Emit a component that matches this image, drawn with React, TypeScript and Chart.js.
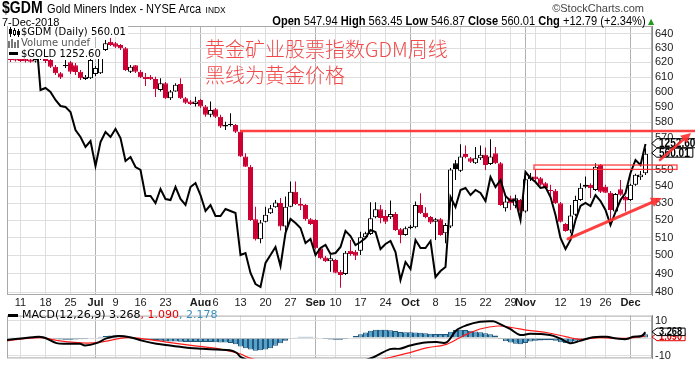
import React, { useEffect, useRef } from 'react';
import { Chart, registerables } from 'chart.js';
Chart.register(...registerables);

const NARROW = '"Liberation Sans Narrow", "Arial Narrow", "Liberation Sans", Arial, sans-serif';
const LEG = '"DejaVu Sans", Verdana, sans-serif';

// Daily candles, 7-Jun-2018 .. 7-Dec-2018 (index 0 = 7-Jun)
const open = [623.8,623.0,623.0,622.5,622.0,620.6,622.8,623.1,621.7,617.1,612.6,617.6,620.1,618.0,613.6,608.7,609.2,612.1,612.6,628.7,634.5,633.4,632.2,629.9,613.6,618.0,613.6,610.2,610.1,608.7,601.3,605.8,595.7,600.2,605.3,595.7,593.5,592.0,594.6,590.2,584.8,588.5,583.6,577.2,578.3,578.3,573.9,558.2,551.9,520.5,509.1,519.1,524.1,527.6,530.1,516.3,527.9,536.8,529.5,528.9,520.5,520.1,504.0,498.8,496.8,497.4,491.0,489.7,502.6,502.0,502.6,510.2,512.1,521.7,526.4,522.5,521.7,523.6,514.8,511.5,515.3,515.9,528.9,524.4,521.8,519.1,520.5,512.5,516.3,554.1,549.5,559.9,557.2,554.1,557.2,559.3,553.6,560.3,554.1,527.0,532.9,528.4,531.9,525.0,544.3,545.9,544.9,541.9,537.8,537.4,529.9,517.8,514.0,523.1,531.9,539.8,540.9,537.8,553.0,539.8,536.2,525.0,538.2,533.6,531.9,540.9,545.5,547.94];
const high = [625.2,624.5,624.5,624.0,623.5,623.8,625.2,623.8,622.4,618.3,613.4,621.7,621.0,619.6,614.8,611.4,622.4,617.6,628.7,635.7,637.1,634.3,632.9,630.8,618.3,618.3,614.8,612.8,611.4,610.1,609.2,606.7,601.3,605.8,609.2,596.6,594.6,596.8,595.3,591.3,593.5,589.3,584.8,580.4,585.9,578.9,575.0,560.3,553.0,527.9,520.1,527.9,528.9,531.9,533.1,533.9,542.9,542.9,533.1,529.5,521.3,520.7,504.7,499.6,500.2,498.0,491.9,502.4,508.7,503.0,513.4,513.4,530.5,530.5,528.9,526.0,531.5,524.8,515.5,516.3,517.2,530.9,535.9,527.6,522.5,521.3,521.3,518.4,551.1,556.1,565.9,565.2,558.0,564.2,565.2,563.9,569.1,564.2,554.9,534.9,534.3,534.9,532.5,545.7,548.1,549.9,545.7,542.7,540.9,538.4,530.7,518.4,528.9,534.3,541.9,545.9,541.9,554.1,553.6,540.9,537.2,536.0,543.9,534.3,541.5,547.7,549.3,563.45];
const low = [620.3,620.6,620.3,620.0,619.8,620.0,621.7,619.6,616.2,611.4,608.7,616.2,612.1,611.4,608.0,608.0,608.7,610.7,612.1,628.0,631.5,630.1,628.7,614.1,612.8,612.8,609.4,604.0,608.0,596.6,600.2,595.3,594.6,600.0,595.3,592.0,591.3,590.2,589.3,583.6,583.3,582.8,576.3,575.0,577.2,573.1,558.0,551.8,519.5,508.3,506.8,518.6,523.6,527.2,514.0,513.4,527.6,528.9,526.0,519.7,517.2,503.4,497.8,496.3,491.0,490.1,482.3,489.2,499.8,497.4,500.2,509.6,511.5,521.1,518.2,517.8,520.7,513.8,506.8,511.0,514.8,515.3,523.6,521.1,517.8,508.7,511.0,506.8,515.5,543.9,548.7,557.2,554.2,553.6,556.1,549.9,553.0,553.6,528.4,525.0,526.0,527.0,520.1,524.4,543.3,543.3,540.3,538.4,534.3,529.5,518.6,513.3,512.5,522.5,531.3,538.8,533.1,537.2,536.0,536.0,520.1,524.2,534.3,525.0,531.3,540.3,543.9,546.87];
const close = [621.7,621.4,621.0,620.8,620.5,622.4,623.2,621.0,617.1,612.6,609.6,618.1,613.6,613.4,609.2,610.2,621.7,616.2,626.4,633.4,632.2,631.0,629.9,614.8,617.1,613.6,609.8,608.7,608.5,601.8,605.8,595.7,600.2,604.7,595.7,592.8,592.0,593.5,590.2,584.8,588.0,583.6,577.2,578.3,578.9,573.9,558.2,551.9,520.1,509.1,518.6,523.1,527.0,530.3,516.3,527.9,536.8,529.5,528.5,520.5,517.8,504.0,498.4,496.8,498.4,490.4,489.2,501.5,500.8,499.8,510.2,512.5,521.1,526.4,521.3,519.1,523.6,514.4,511.5,515.3,516.3,528.9,524.1,521.8,518.6,520.5,511.5,517.2,550.3,550.5,558.3,557.8,555.0,557.2,559.3,553.0,558.3,554.1,528.9,530.9,529.9,532.9,525.0,544.3,545.9,544.3,540.9,538.9,537.2,529.9,519.1,513.8,522.7,531.9,539.2,540.9,538.8,551.9,536.8,536.2,526.0,535.4,534.9,531.5,540.9,547.1,547.22,560.01];
// $GOLD overlay (black line)
const gold = [1299.6,1299.6,1300.6,1298.6,1299.6,1309.6,1279.6,1280.6,1278.6,1274.6,1271.6,1271.1,1268.6,1259.6,1256.1,1251.1,1254.1,1241.6,1253.6,1258.6,1256.1,1260.1,1255.6,1244.1,1246.1,1241.1,1239.6,1226.6,1226.6,1223.1,1230.1,1225.1,1224.6,1231.1,1225.1,1222.1,1231.1,1233.1,1227.1,1219.1,1222.1,1216.6,1216.6,1220.1,1219.1,1218.1,1197.1,1198.1,1188.1,1182.6,1181.1,1193.1,1197.1,1201.1,1191.6,1208.1,1215.1,1213.1,1210.6,1203.1,1205.1,1197.1,1200.6,1202.1,1197.6,1198.1,1201.1,1209.1,1206.6,1202.1,1203.6,1205.6,1209.6,1208.6,1200.1,1202.6,1204.1,1198.6,1184.6,1193.6,1190.1,1204.6,1200.6,1200.6,1204.1,1186.1,1189.1,1191.1,1226.1,1221.1,1229.6,1230.6,1227.1,1229.6,1228.1,1224.1,1236.1,1231.1,1234.6,1226.6,1224.1,1224.6,1214.6,1238.6,1235.6,1233.6,1230.6,1231.1,1226.1,1217.1,1205.6,1200.1,1204.6,1214.6,1221.6,1223.1,1221.6,1227.1,1224.1,1219.6,1212.1,1218.6,1224.6,1228.1,1238.1,1244.6,1242.1,1252.6];
// MACD histogram, one per day
const hist = [0.2,0.2,0.5,0.6,0.6,0.6,0.5,0.2,-0.2,-0.6,-0.8,-0.9,-0.9,-0.8,-0.7,-0.6,-0.3,0.3,0.8,1.2,1.5,1.6,1.4,1.0,0.3,-0.3,-0.7,-1.0,-1.2,-1.4,-1.6,-1.8,-1.9,-2.0,-2.1,-2.2,-2.2,-2.2,-2.3,-2.3,-2.3,-2.4,-2.5,-2.6,-2.8,-3.6,-4.8,-5.8,-6.6,-7.2,-7.0,-6.6,-5.8,-4.4,-3.0,-1.6,-0.4,0.4,0.7,0.8,0.7,0.4,-0.2,-0.6,-0.8,-0.9,-1.0,-0.6,0.3,1.2,2.2,3.2,4.2,4.7,4.8,4.7,4.5,4.0,3.5,3.3,3.3,3.2,3.0,2.7,2.5,2.4,2.3,2.4,3.6,4.6,4.8,4.6,4.2,3.8,3.3,2.8,2.2,1.4,-0.6,-1.8,-2.6,-3.2,-3.5,-2.8,-2.0,-1.6,-1.4,-1.3,-1.3,-1.6,-2.4,-2.8,-2.6,-2.0,-1.2,0.0,0.6,0.8,0.8,0.6,-0.1,-0.2,-0.3,-0.1,0.6,1.0,1.2,2.178];
// MACD line and signal line, read at day positions
const macdDay = [-0.8,4.5,6.5,9.2,11.2,13.9,14.9,17.2,19.2,21.5,23.9,26.5,29.2,31.9,33.9,35.9,38.5,41.2,43.9,45.2,46.2,49,55,62,68,72.5,75.9,77.9,79.9,82.5,85.2,87.2,89.2,91.2,93.9,96.5,97.5,99.9,101.9,103.9,107.9,109.9,111.9,113.9,116.5,119.2,121.2,123.2,124.5,126.2,127];
const macdVal = [-1.2,0.5,0.5,-2.9,-3.3,-3.3,-4.3,-2.9,-0.2,1.2,0.5,-1.6,-3.3,-4.3,-5.0,-5.7,-6.1,-6.6,-7.0,-8.4,-11.1,-14,-17,-17.5,-15,-11.1,-6.3,-6.1,-4.3,-2.7,-2.3,-2.5,4.5,7.3,9.3,9.6,8.6,5.2,1.8,2.5,1.8,-0.2,-2.9,-1.6,0.5,0.7,-0.2,-0.6,0.7,1.2,3.268];
const signalDay = [-0.8,5.9,9.9,15.2,17.9,23.2,25.9,31.2,36.5,41.9,45.9,47.9,52,58,65,71,75.9,79.2,83.2,87.2,90.5,93.9,97.5,100.5,103.2,107.2,111.2,113.9,117.9,122.5,127];
const signalVal = [-1.6,0.3,-1.6,-2.9,-2.3,0.2,-0.2,-2.3,-4.3,-6.3,-9.0,-11.5,-14,-16,-16.5,-14,-11.1,-8.8,-5.6,-3.6,1.2,5.2,6.9,5.9,4.5,3.2,0.7,-0.7,0.2,-0.2,1.09];

// x axis: week starts / month starts (day index) and labels
const tickIdx = [2,7,12,17,21,26,31,36,38,41,46,51,56,61,65,70,75,80,85,90,95,100,103,105,110,115,119,124];
const tickText = ['11','18','25','Jul','9','16','23','','Aug','6','13','20','27','Sep','10','17','24','Oct','8','15','22','29','Nov','','12','19','26','Dec'];
const monthIdx = [17,38,61,80,103,124];
const priceTicks = [480,490,500,510,520,530,540,550,560,570,580,590,600,610,620,630,640];
const macdTicks = [-10,0,10];

// hand-drawn annotations (day index / price)
const resistancePrice = 574.4;
const resistanceFrom = 45.9;
const boxFrom = 104.7, boxTo = 133.3, boxHi = 553.0, boxLo = 550.3;
const arrowLow = [111.5, 509.3, 130.3, 533.1];
const arrowHigh = [129.9, 556.1, 136.1, 573.1];

const X_MIN = -0.7, X_MAX = 128.3;
const RED = '#cc0033';
const ANN = 'rgba(255,48,48,0.92)';

function arrow(ctx: any, x1: number, y1: number, x2: number, y2: number, w: number, hl: number, hw: number) {
  const a = Math.atan2(y2 - y1, x2 - x1);
  const bx = x2 - hl * Math.cos(a), by = y2 - hl * Math.sin(a);
  ctx.strokeStyle = ANN; ctx.fillStyle = ANN; ctx.lineWidth = w; ctx.lineCap = 'round';
  ctx.beginPath(); ctx.moveTo(x1, y1); ctx.lineTo(bx, by); ctx.stroke();
  ctx.beginPath(); ctx.moveTo(x2, y2);
  ctx.lineTo(bx + hw * Math.sin(a), by - hw * Math.cos(a));
  ctx.lineTo(bx - hw * Math.sin(a), by + hw * Math.cos(a));
  ctx.closePath(); ctx.fill();
}

function tag(ctx: any, x: number, y: number, text: string, color: string, font: string, h: number) {
  ctx.save();
  ctx.font = font;
  const sx = 0.84;
  const w = ctx.measureText(text).width * sx + 5;
  ctx.beginPath();
  ctx.moveTo(x, y);
  ctx.lineTo(x + 5, y - h / 2);
  ctx.lineTo(x + 5 + w, y - h / 2);
  ctx.lineTo(x + 5 + w, y + h / 2);
  ctx.lineTo(x + 5, y + h / 2);
  ctx.closePath();
  ctx.fillStyle = '#fff'; ctx.fill();
  ctx.strokeStyle = color; ctx.lineWidth = 1; ctx.stroke();
  ctx.fillStyle = color; ctx.textBaseline = 'middle'; ctx.textAlign = 'left';
  ctx.translate(x + 7, y + 0.5);
  ctx.scale(sx, 1);
  ctx.fillText(text, 0, 0);
  ctx.restore();
}

const gridColor = (ctx: any) => (monthIdx.includes(ctx.tick && ctx.tick.value) ? '#b2b2b2' : '#dedede');

function xAxis(showLabels: boolean) {
  return {
    type: 'linear', min: X_MIN, max: X_MAX, offset: false,
    afterBuildTicks: (s: any) => { s.ticks = tickIdx.map((v) => ({ value: v })); },
    afterFit: (s: any) => { s.height = showLabels ? 11 : 0; },
    grid: { color: gridColor, drawTicks: false, offset: false, lineWidth: 1 },
    border: { display: false },
    ticks: {
      display: showLabels, autoSkip: false, maxRotation: 0, minRotation: 0, padding: 1, color: '#1a1a1a',
      font: (c: any) => ({ family: NARROW, size: 11, weight: monthIdx.includes(c.tick && c.tick.value) ? 'bold' : 'normal' }),
      callback: (v: any) => { const i = tickIdx.indexOf(v); return i >= 0 ? tickText[i] : ''; },
    },
  };
}

const framePlugin = {
  id: 'frame',
  beforeDatasetsDraw(chart: any) {
    const { ctx, chartArea: a } = chart;
    ctx.save();
    ctx.strokeStyle = '#a8a8a8'; ctx.lineWidth = 1;
    ctx.strokeRect(a.left + 0.5, a.top + 0.5, a.right - a.left - 1, a.bottom - a.top - 1);
    ctx.restore();
  },
};

export default function App() {
  const mainRef = useRef<HTMLCanvasElement>(null);
  const macdRef = useRef<HTMLCanvasElement>(null);

  useEffect(() => {
    const days = close.map((_, k) => k);
    const up = days.map((k) => close[k] >= open[k]);
    const down = days.map((k) => (k > 0 ? close[k] < close[k - 1] : true));
    const fill = days.map((k) => (up[k] ? '#ffffff' : down[k] ? RED : '#000000'));
    const edge = days.map((k) => (up[k] ? '#000000' : down[k] ? RED : '#000000'));

    const annotations = {
      id: 'annotations',
      afterDraw(chart: any) {
        const { ctx, scales } = chart;
        const xs = scales.x, ys = scales.y, yg = scales.yGold;
        ctx.save();
        const ry = ys.getPixelForValue(resistancePrice);
        ctx.strokeStyle = ANN; ctx.lineWidth = 2.5;
        ctx.beginPath(); ctx.moveTo(xs.getPixelForValue(resistanceFrom), ry); ctx.lineTo(chart.width, ry); ctx.stroke();
        ctx.lineWidth = 1.3;
        const bx1 = xs.getPixelForValue(boxFrom), bx2 = xs.getPixelForValue(boxTo);
        const by1 = ys.getPixelForValue(boxHi), by2 = ys.getPixelForValue(boxLo);
        ctx.strokeRect(bx1, by1, bx2 - bx1, by2 - by1);
        arrow(ctx, xs.getPixelForValue(arrowLow[0]), ys.getPixelForValue(arrowLow[1]), xs.getPixelForValue(arrowLow[2]), ys.getPixelForValue(arrowLow[3]), 3, 11, 5);
        const area = chart.chartArea;
        const cy = ys.getPixelForValue(close[close.length - 1]) - 1;
        const gy = Math.min(yg.getPixelForValue(gold[gold.length - 1]), cy - 9.5);
        const f = 'bold 12px ' + NARROW;
        tag(ctx, area.right, gy, gold[gold.length - 1].toFixed(2), '#000', f, 9);
        tag(ctx, area.right, cy, close[close.length - 1].toFixed(2), '#000', f, 9);
        arrow(ctx, xs.getPixelForValue(arrowHigh[0]), ys.getPixelForValue(arrowHigh[1]), xs.getPixelForValue(arrowHigh[2]), ys.getPixelForValue(arrowHigh[3]), 2.5, 10, 5);
        ctx.restore();
      },
    };

    const main = new Chart(mainRef.current as HTMLCanvasElement, {
      type: 'bar',
      data: {
        datasets: [
          {
            type: 'line', data: days.map((k) => ({ x: k, y: gold[k] })), yAxisID: 'yGold',
            borderColor: '#000', borderWidth: 2, pointRadius: 0, tension: 0, order: 1,
          } as any,
          {
            data: days.map((k) => ({ x: k, y: [open[k], close[k]] })), yAxisID: 'y',
            backgroundColor: fill, borderColor: edge, borderWidth: 1, borderSkipped: false,
            barThickness: 5, grouped: false, minBarLength: 1, inflateAmount: 0, order: 2,
          } as any,
          {
            data: days.map((k) => ({ x: k, y: [low[k], high[k]] })), yAxisID: 'y',
            backgroundColor: edge, borderWidth: 0, barThickness: 1, grouped: false, inflateAmount: 0, order: 3,
          } as any,
        ],
      },
      options: {
        responsive: false, maintainAspectRatio: false, animation: false, events: [],
        layout: { padding: { left: 7, top: 26, right: 0, bottom: 0 } },
        plugins: { legend: { display: false }, tooltip: { enabled: false } },
        scales: {
          x: xAxis(true) as any,
          y: {
            type: 'logarithmic', position: 'right', min: 478.4, max: 645.7,
            afterBuildTicks: (s: any) => { s.ticks = priceTicks.map((v) => ({ value: v })); },
            afterFit: (s: any) => { s.width = 43; },
            grid: { color: '#dedede', drawTicks: false },
            border: { display: true, color: '#8a8a8a' },
            ticks: { autoSkip: false, padding: 3, color: '#1a1a1a', font: { family: NARROW, size: 11 }, callback: (v: any) => String(v) },
          } as any,
          yGold: { type: 'linear', display: false, min: 1177.1, max: 1311.6 } as any,
        },
      },
      plugins: [framePlugin, annotations],
    });

    const macdTags = {
      id: 'macdTags',
      afterDraw(chart: any) {
        const { ctx, scales, chartArea: a } = chart;
        const f = 'bold 11px ' + NARROW;
        const sv = signalVal[signalVal.length - 1], mv = macdVal[macdVal.length - 1];
        tag(ctx, a.right, scales.y.getPixelForValue(sv) + 0.8, sv.toFixed(3), '#e00000', f, 7.5);
        tag(ctx, a.right, scales.y.getPixelForValue(mv) - 0.5, mv.toFixed(3), '#000', f, 7.5);
      },
    };

    const macd = new Chart(macdRef.current as HTMLCanvasElement, {
      type: 'bar',
      data: {
        datasets: [
          {
            type: 'line', data: macdDay.map((d, i) => ({ x: d, y: macdVal[i] })),
            borderColor: '#000', borderWidth: 2, pointRadius: 0, tension: 0.35, order: 1,
          } as any,
          {
            type: 'line', data: signalDay.map((d, i) => ({ x: d, y: signalVal[i] })),
            borderColor: '#ff1a1a', borderWidth: 1.2, pointRadius: 0, tension: 0.35, order: 2,
          } as any,
          {
            data: days.map((k) => ({ x: k, y: hist[k] })),
            backgroundColor: '#55a2cc', borderColor: '#24587a', borderWidth: 1, borderSkipped: false,
            barThickness: 5, grouped: false, inflateAmount: 0, order: 3,
          } as any,
        ],
      },
      options: {
        responsive: false, maintainAspectRatio: false, animation: false, events: [],
        layout: { padding: { left: 7, top: 2, right: 0, bottom: 0 } },
        plugins: { legend: { display: false }, tooltip: { enabled: false } },
        scales: {
          x: xAxis(false) as any,
          y: {
            type: 'linear', position: 'right', min: -11.633, max: 12.857,
            afterBuildTicks: (s: any) => { s.ticks = macdTicks.map((v) => ({ value: v })); },
            afterFit: (s: any) => { s.width = 43; },
            grid: { color: '#dedede', drawTicks: false },
            border: { display: true, color: '#8a8a8a' },
            ticks: { autoSkip: false, padding: 3, color: '#1a1a1a', font: { family: NARROW, size: 11 }, callback: (v: any) => String(v) },
          } as any,
        },
      },
      plugins: [framePlugin, macdTags],
    });

    return () => { main.destroy(); macd.destroy(); };
  }, []);

  const last = close.length - 1;
  const legendLine = { background: '#fff', display: 'flex', alignItems: 'center', height: 11, width: 'fit-content', paddingRight: 2 } as React.CSSProperties;

  return (
    <div style={{ position: 'fixed', left: 0, top: 0, width: 695, height: 368, background: '#fff', overflow: 'hidden' }}>
      <canvas ref={mainRef} width={695} height={306} style={{ position: 'absolute', left: 0, top: 0, width: 695, height: 306 }} />
      <canvas ref={macdRef} width={695} height={62} style={{ position: 'absolute', left: 0, top: 306, width: 695, height: 62 }} />

      {/* header */}
      <div style={{ position: 'absolute', left: 2, top: 0, whiteSpace: 'nowrap', fontFamily: NARROW, color: '#000', lineHeight: '16px', transform: 'scaleX(0.88)', transformOrigin: 'left top' }}>
        <span style={{ fontSize: 16, fontWeight: 'bold' }}>$GDM</span>
        <span style={{ fontSize: 12.5, marginLeft: 5 }}>Gold Miners Index - NYSE Arca</span>
        <span style={{ fontSize: 9.5, marginLeft: 5 }}>INDX</span>
      </div>
      <div style={{ position: 'absolute', right: 51, top: 1, whiteSpace: 'nowrap', fontFamily: NARROW, fontSize: 11, color: '#444', lineHeight: '14px' }}>©StockCharts.com</div>
      <div style={{ position: 'absolute', left: 2, top: 15, whiteSpace: 'nowrap', fontFamily: NARROW, fontSize: 11, color: '#000', lineHeight: '14px' }}>7-Dec-2018</div>
      <div style={{ position: 'absolute', right: 49, top: 14, whiteSpace: 'nowrap', fontFamily: NARROW, fontSize: 12, color: '#000', lineHeight: '15px', transform: 'scaleX(0.925)', transformOrigin: 'right top' }}>
        <b>Open</b> {open[last].toFixed(2)} <b>High</b> {high[last].toFixed(2)} <b>Low</b> {low[last].toFixed(2)} <b>Close</b> {close[last].toFixed(2)} <b>Chg</b> +12.79 (+2.34%)
      </div>
      <div style={{ position: 'absolute', left: 648, top: 17, fontSize: 8, color: '#1f9a1f', lineHeight: '10px', fontFamily: LEG }}>▲</div>

      {/* in-chart legend */}
      <div style={{ position: 'absolute', left: 8, top: 26, fontFamily: LEG, fontSize: 10, lineHeight: '11px', whiteSpace: 'nowrap' }}>
        <div style={legendLine}>
          <svg width="12" height="10" style={{ marginRight: 1 }}>
            <line x1="2.5" y1="0" x2="2.5" y2="10" stroke="#000" />
            <rect x="1" y="2" width="3" height="5" fill="#000" />
            <line x1="6.5" y1="1" x2="6.5" y2="9" stroke="#000" />
            <rect x="5.5" y="3.5" width="2" height="4" fill="#fff" stroke="#000" />
            <line x1="10.5" y1="2" x2="10.5" y2="10" stroke="#000" />
            <rect x="9" y="4" width="3" height="4" fill="#000" />
          </svg>
          <span>$GDM (Daily) {close[last].toFixed(2)}</span>
        </div>
        <div style={{ ...legendLine, color: '#555' }}>
          <svg width="12" height="10" style={{ marginRight: 1 }}>
            <rect x="0" y="3" width="2" height="7" fill="#777" />
            <rect x="3" y="1" width="2" height="9" fill="#777" />
            <rect x="6" y="4" width="2" height="6" fill="#777" />
            <rect x="9" y="2" width="2" height="8" fill="#777" />
          </svg>
          <span>Volume undef</span>
        </div>
        <div style={legendLine}>
          <span style={{ display: 'inline-block', width: 9, height: 3, background: '#000', marginLeft: 1, marginRight: 3 }} />
          <span>$GOLD {gold[last].toFixed(2)}</span>
        </div>
      </div>

      {/* handwritten note */}
      <div style={{ position: 'absolute', left: 205, top: 38, fontFamily: '"Noto Sans CJK SC", sans-serif', fontSize: 20, lineHeight: '22px', color: '#f04a4a', whiteSpace: 'nowrap', fontWeight: 300 }}>黄金矿业股票指数GDM周线</div>
      <div style={{ position: 'absolute', left: 205, top: 64, fontFamily: '"Noto Sans CJK SC", sans-serif', fontSize: 20, lineHeight: '22px', color: '#f04a4a', whiteSpace: 'nowrap', fontWeight: 300 }}>黑线为黄金价格</div>

      {/* MACD legend */}
      <div style={{ position: 'absolute', left: 8, top: 309, fontFamily: LEG, fontSize: 11, lineHeight: '12px', whiteSpace: 'nowrap', display: 'flex', alignItems: 'center' }}>
        <span style={{ display: 'inline-block', width: 10, height: 3, background: '#000', marginRight: 4 }} />
        <span>MACD(12,26,9) {macdVal[macdVal.length - 1].toFixed(3)}</span>
        <span style={{ color: '#ee0000' }}>, {signalVal[signalVal.length - 1].toFixed(3)}</span>
        <span style={{ color: '#3a8fc0' }}>, {hist[hist.length - 1].toFixed(3)}</span>
      </div>
    </div>
  );
}
